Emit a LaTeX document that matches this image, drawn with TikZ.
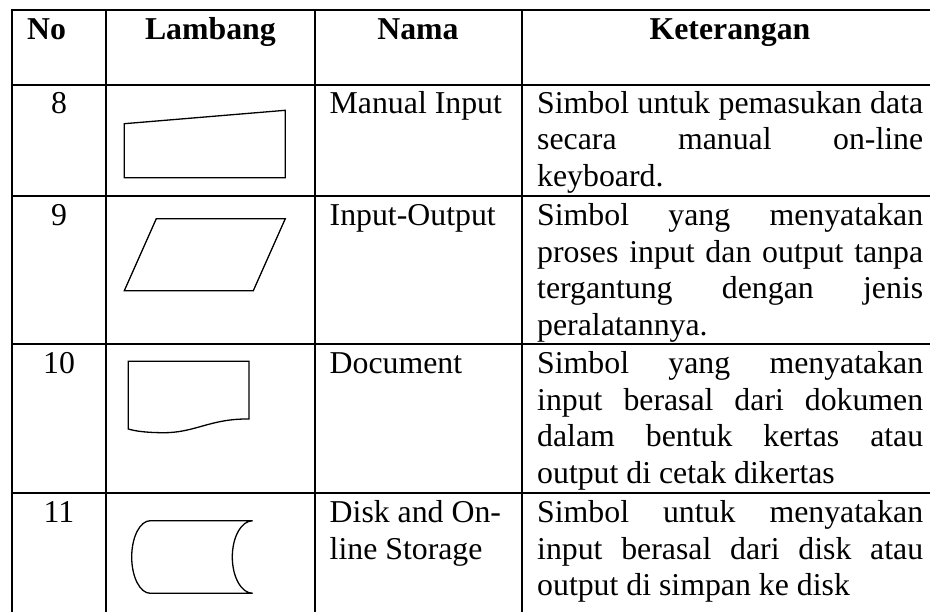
\documentclass[tikz,border=0pt]{standalone}
\usepackage{fontspec}
\setmainfont{Liberation Serif}
\tikzset{
  cell/.style={inner sep=0pt, font=\fontsize{31.8}{36.5}\selectfont},
  headcell/.style={cell, font=\fontsize{31.8}{36.5}\selectfont\bfseries, anchor=base},
  numcell/.style={cell, anchor=base},
  namecell/.style={cell, anchor=base west, text width=185pt, align=flush left},
  desccell/.style={cell, anchor=base west, text width=386pt, align=justify,
    execute at begin node={\tolerance=10000\hbadness=10000\hyphenpenalty=10000\exhyphenpenalty=10000}},
  gridline/.style={line width=2.2pt},
  symbol/.style={line width=1.3pt, line join=miter}
}
\begin{document}
\begin{tikzpicture}[x=1pt,y=-1pt]
\useasboundingbox (0,0) rectangle (930,612);
\fill[white] (0,0) rectangle (930,612);
\clip (0,0) rectangle (930,612);

% table rules
\draw[gridline] (12,10.3) rectangle (938,650);
\foreach \cx in {106,314.7,522} \draw[gridline] (\cx,10.3) -- (\cx,650);
\foreach \ry in {85,196,344.3,493.3} \draw[gridline] (12,\ry) -- (938,\ry);

% header row
\node[cell, anchor=base west, font=\fontsize{31.8}{36.5}\selectfont\bfseries] (hNo) at (27,39.3) {No};
\node[headcell] (hLambang) at (210.4,39.3) {Lambang};
\node[headcell] (hNama) at (418,39.3) {Nama};
\node[headcell] (hKet) at (730,39.3) {Keterangan};

% row 8
\node[numcell] (n8) at (59,113.5) {8};
\node[namecell] (m8) at (329.5,113.5) {Manual Input};
\node[desccell] (k8) at (537,113.5) {Simbol untuk pemasukan data\linebreak secara manual on-line\linebreak keyboard.};
\draw[symbol] (124.3,123.7) -- (285.3,110.3) -- (285.3,177.7) -- (124.3,177.7) -- cycle;

% row 9
\node[numcell] (n9) at (59,226) {9};
\node[namecell] (m9) at (329.5,226) {Input-Output};
\node[desccell] (k9) at (537,226) {Simbol yang menyatakan\linebreak proses input dan output tanpa\linebreak tergantung dengan jenis\linebreak peralatannya.};
\draw[symbol] (156.3,218.7) -- (285.3,218.7) -- (253.3,290.7) -- (124.3,290.7) -- cycle;

% row 10
\node[numcell] (n10) at (59,374) {10};
\node[namecell] (m10) at (329.5,374) {Document};
\node[desccell] (k10) at (537,374) {Simbol yang menyatakan\linebreak input berasal dari dokumen\linebreak dalam bentuk kertas atau\linebreak output di cetak dikertas};
\draw[symbol] (128.3,429) -- (128.3,361.3) -- (249,361.3) -- (249,419)
  .. controls (210,418.5) and (195,433) .. (163,432.7)
  .. controls (145,432.6) and (135,431) .. (128.3,429) -- cycle;

% row 11
\node[numcell] (n11) at (59,522.5) {11};
\node[namecell] (m11) at (329.5,522.5) {Disk and On-\\line Storage};
\node[desccell] (k11) at (537,522.5) {Simbol untuk menyatakan\linebreak input berasal dari disk atau\linebreak output di simpan ke disk};
\draw[symbol] (252.7,520.7) -- (150.3,520.7)
  arc[start angle=270, end angle=90, x radius=18.6, y radius=36.3]
  -- (252.7,593.3)
  arc[start angle=90, end angle=270, x radius=20.4, y radius=36.3];
\end{tikzpicture}
\end{document}
